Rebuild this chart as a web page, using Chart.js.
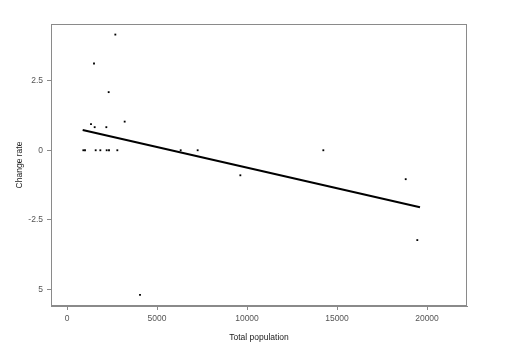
<!DOCTYPE html>
<html><head><meta charset="utf-8">
<script src="https://cdn.jsdelivr.net/npm/chart.js@4"></script>
<style>html,body{margin:0;padding:0;background:#fff}#w{width:508px;height:361px}</style>
</head><body><div id="w"><canvas id="c" width="508" height="361"></canvas></div>
<script>
const popX = [907,1000,1333,1500,1537,1593,1852,2185,2204,2333,2315,2685,2796,3204,4056,6315,7259,9630,14240,18817,19461];
const rateY = [0,0,0.94,3.12,0.83,0,0,0.83,0,0,2.09,4.16,0,1.03,-5.2,0,0,-0.9,0,-1.04,-3.23];
const fitX = [870,19611];
const fitY = [0.73,-2.05];
const xTicks = [0,5000,10000,15000,20000];
const yTicks = [-5,-2.5,0,2.5];
const yTickLabels = ['5','-2.5','0','2.5'];

const F = "'Liberation Sans',Arial,sans-serif";
const boxPlugin = {id:'box', afterDraw(ch){const a=ch.chartArea,c=ch.ctx;c.save();c.strokeStyle='#8a8a8a';c.lineWidth=1;c.strokeRect(a.left+0.5,a.top+0.5,a.right-a.left-1,a.bottom-a.top-1);c.restore();}};

new Chart(document.getElementById('c'),{
  type:'scatter',
  data:{datasets:[
    {data:popX.map((x,i)=>({x,y:rateY[i]})),pointStyle:'rect',pointRadius:1.3,pointBackgroundColor:'#000',pointBorderWidth:0,borderColor:'#000'},
    {type:'line',data:fitX.map((x,i)=>({x,y:fitY[i]})),borderColor:'#000',borderWidth:2,pointRadius:0,fill:false}
  ]},
  plugins:[boxPlugin],
  options:{responsive:false,animation:false,
    layout:{padding:{left:0,top:24,right:41,bottom:0}},
    plugins:{legend:{display:false},tooltip:{enabled:false}},
    scales:{
      x:{type:'linear',min:-889,max:22222,
        afterBuildTicks(s){s.ticks=xTicks.map(v=>({value:v}));},
        afterFit(s){s.height=55;},
        ticks:{color:'#555',font:{family:F,size:8.5},padding:4,maxRotation:0,callback:v=>String(v)},
        grid:{display:true,drawOnChartArea:false,drawTicks:true,tickLength:4,color:'#8a8a8a'},
        border:{display:true,color:'#8a8a8a'},
        title:{display:true,text:'Total population',color:'#222',font:{family:F,size:8.5},padding:{top:0,bottom:18}}
      },
      y:{type:'linear',min:-5.6,max:4.54,
        afterBuildTicks(s){s.ticks=yTicks.map(v=>({value:v}));},
        afterFit(s){s.width=51;},
        ticks:{color:'#555',font:{family:F,size:8.5},padding:4,callback:(v)=>yTickLabels[yTicks.indexOf(v)]},
        grid:{display:true,drawOnChartArea:false,drawTicks:true,tickLength:4,color:'#8a8a8a'},
        border:{display:true,color:'#8a8a8a'},
        title:{display:true,text:'Change rate',color:'#222',font:{family:F,size:8.5},padding:{top:15,bottom:0}}
      }
    }
  }
});
</script></body></html>
